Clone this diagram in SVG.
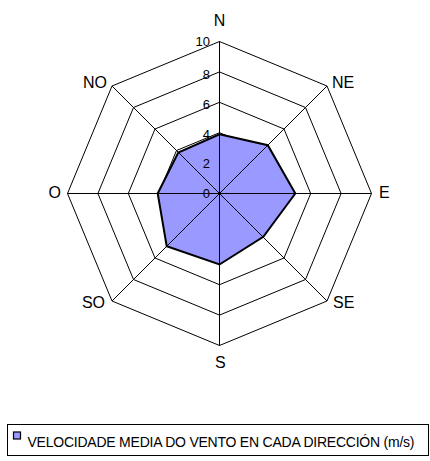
<svg xmlns="http://www.w3.org/2000/svg" width="430" height="461" viewBox="0 0 430 461">
<style>
.ring{fill:none;stroke:#000;stroke-width:1}
.spoke{stroke:#000;stroke-width:1}
.series{fill:#9999FF;stroke:none}
.outline{fill:none;stroke:#000;stroke-width:2;stroke-linejoin:miter}
.dir{font-family:"Liberation Sans",Arial,sans-serif;font-size:16px;fill:#000}
.tick{font-family:"Liberation Sans",Arial,sans-serif;font-size:13px;fill:#000;text-anchor:end}
.leg{font-family:"Liberation Sans",Arial,sans-serif;font-size:14px;fill:#000}
</style>
<rect width="430" height="461" fill="#fff"/>
<g id="grid">
<polygon class="ring" points="219.5,163.1 241,172 249.9,193.5 241,215 219.5,223.9 198,215 189.1,193.5 198,172"/>
<polygon class="ring" points="219.5,132.7 262.5,150.5 280.3,193.5 262.5,236.5 219.5,254.3 176.5,236.5 158.7,193.5 176.5,150.5"/>
<polygon class="ring" points="219.5,102.3 284,129 310.7,193.5 284,258 219.5,284.7 155,258 128.3,193.5 155,129"/>
<polygon class="ring" points="219.5,71.9 305.5,107.5 341.1,193.5 305.5,279.5 219.5,315.1 133.5,279.5 97.9,193.5 133.5,107.5"/>
<polygon class="ring" points="219.5,41.5 327,86 371.5,193.5 327,301 219.5,345.5 112,301 67.5,193.5 112,86"/>
</g>
<g id="series-fill">
<polygon class="series" points="219.5,134.3 267.8,145.2 295.3,193.5 263.3,236.8 219.5,264.5 166.7,246.2 157.7,193.5 178.3,152.5"/>
</g>
<g id="connectors">
<line class="spoke" x1="219.5" y1="193.5" x2="219.5" y2="41.5"/>
<line class="spoke" x1="219.5" y1="193.5" x2="327" y2="86"/>
<line class="spoke" x1="219.5" y1="193.5" x2="371.5" y2="193.5"/>
<line class="spoke" x1="219.5" y1="193.5" x2="327" y2="301"/>
<line class="spoke" x1="219.5" y1="193.5" x2="219.5" y2="345.5"/>
<line class="spoke" x1="219.5" y1="193.5" x2="112" y2="301"/>
<line class="spoke" x1="219.5" y1="193.5" x2="67.5" y2="193.5"/>
<line class="spoke" x1="219.5" y1="193.5" x2="112" y2="86"/>
</g>
<g id="series">
<polygon class="outline" points="219.5,134.3 267.8,145.2 295.3,193.5 263.3,236.8 219.5,264.5 166.7,246.2 157.7,193.5 178.3,152.5"/>
<circle cx="219.5" cy="193.5" r="1.5" fill="#000"/>
</g>
<g id="ticks">
<text class="tick" x="210" y="45.5">10</text>
<text class="tick" x="210" y="79">8</text>
<text class="tick" x="210" y="108.5">6</text>
<text class="tick" x="210" y="139">4</text>
<text class="tick" x="210" y="167.5">2</text>
<text class="tick" x="210" y="197.5">0</text>
</g>
<g id="labels">
<text class="dir" x="219.5" y="25.5" text-anchor="middle">N</text>
<text class="dir" x="332" y="88.3">NE</text>
<text class="dir" x="379" y="197.7">E</text>
<text class="dir" x="333" y="308.3">SE</text>
<text class="dir" x="220.3" y="368.3" text-anchor="middle">S</text>
<text class="dir" x="105" y="308.3" text-anchor="end">SO</text>
<text class="dir" x="61" y="197.7" text-anchor="end">O</text>
<text class="dir" x="107" y="88.3" text-anchor="end">NO</text>
</g>
<g id="legend">
<rect x="7.5" y="424.5" width="421" height="31" fill="#fff" stroke="#000" stroke-width="1"/>
<rect x="13.5" y="432" width="7" height="7" fill="#9999FF" stroke="#000" stroke-width="1.2"/>
<text class="leg" x="27.5" y="446.8" textLength="387" lengthAdjust="spacing">VELOCIDADE MEDIA DO VENTO EN CADA DIRECCIÓN (m/s)</text>
</g>
</svg>
